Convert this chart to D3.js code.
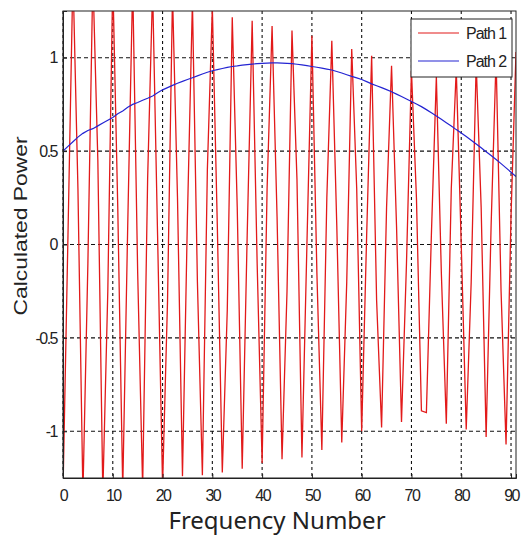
<!DOCTYPE html>
<html>
<head>
<meta charset="utf-8">
<script src="https://d3js.org/d3.v7.min.js"></script>
<style>
  body { margin: 0; background: #fff; }
  text { font-family: "Liberation Sans", Arial, sans-serif; fill: #222; }
</style>
</head>
<body>
<div id="chart_power"></div>
<script>
// data ---------------------------------------------------------------------
var freq = d3.range(0, 92); // frequency numbers 0..91

var path1 = [
  -1.32, 0.05, 1.45, 0.30, -1.34, -0.10, 1.44, 0.45, -1.33, -0.25,
   1.42, 0.20, -1.31, 0.10, 1.40, -0.15, -1.30, 0.35, 1.37, 0.05,
  -1.29, -0.30, 1.34, 0.25, -1.24, 0.15, 1.30, -0.20, -1.235, 0.40,
   1.27, 0.10, -1.22, -0.35, 1.216, 0.20, -1.20, 0.05, 1.198, -0.10,
  -1.17, 0.30, 1.17, 0.15, -1.15, -0.25, 1.145, 0.35, -1.14, 0.00,
   1.118, -0.15, -1.10, 0.25, 1.09, 0.10, -1.06, -0.20, 1.047, 0.30,
  -1.00, 0.05, 1.01, -0.30, -0.98, 0.20, 0.957, 0.10, -0.95, -0.10,
   0.93, 0.25, -0.89, -0.90, 0.05, 0.90, -0.15, -0.96, 0.30, 0.94,
   0.00, -0.99, -0.20, 0.97, 0.20, -1.03, 0.10, 1.00, -0.25, -1.07,
   0.15, 1.03
];

var path2 = [
  0.500, 0.525, 0.550, 0.575, 0.595, 0.610, 0.620, 0.635, 0.650, 0.665,
  0.680, 0.700, 0.715, 0.735, 0.750, 0.760, 0.772, 0.783, 0.795, 0.812,
  0.828, 0.840, 0.852, 0.863, 0.873, 0.883, 0.893, 0.903, 0.913, 0.922,
  0.930, 0.936, 0.942, 0.948, 0.953, 0.956, 0.960, 0.963, 0.966, 0.968,
  0.970, 0.971, 0.972, 0.972, 0.971, 0.970, 0.968, 0.965, 0.962, 0.958,
  0.953, 0.949, 0.944, 0.939, 0.934, 0.926, 0.918, 0.909, 0.900, 0.892,
  0.883, 0.872, 0.860, 0.850, 0.840, 0.829, 0.818, 0.805, 0.792, 0.779,
  0.766, 0.752, 0.738, 0.722, 0.705, 0.688, 0.670, 0.652, 0.634, 0.615,
  0.597, 0.578, 0.558, 0.538, 0.518, 0.497, 0.476, 0.455, 0.433, 0.410,
  0.387, 0.364
];

var xTicks = [0, 10, 20, 30, 40, 50, 60, 70, 80, 90];
var yTicks = [-1, -0.5, 0, 0.5, 1];
var seriesNames = ["Path 1", "Path 2"];
var seriesColors = ["#e21a1a", "#2424d2"];

// set the dimensions and margins of the graph
var margin = {top: 11, right: 6, bottom: 59, left: 63},
    width = 522 - margin.left - margin.right,
    height = 537 - margin.top - margin.bottom;

var svg = d3.select("#chart_power")
  .append("svg")
    .attr("width", 522)
    .attr("height", 537)
  .append("g")
    .attr("transform", "translate(" + margin.left + "," + margin.top + ")");

var x = d3.scaleLinear().domain([0, 91]).range([0, width]);
var y = d3.scaleLinear().domain([-1.25, 1.25]).range([height, 0]);

svg.append("clipPath")
    .attr("id", "plotclip")
  .append("rect")
    .attr("width", width)
    .attr("height", height);

// dotted grid
svg.append("g")
  .selectAll("line")
  .data(xTicks)
  .enter()
  .append("line")
    .attr("x1", function(d) { return x(d); })
    .attr("x2", function(d) { return x(d); })
    .attr("y1", 0)
    .attr("y2", height)
    .attr("stroke", "#111")
    .attr("stroke-width", 1.1)
    .attr("stroke-dasharray", "3,3");

svg.append("g")
  .selectAll("line")
  .data(yTicks)
  .enter()
  .append("line")
    .attr("x1", 0)
    .attr("x2", width)
    .attr("y1", function(d) { return y(d); })
    .attr("y2", function(d) { return y(d); })
    .attr("stroke", "#111")
    .attr("stroke-width", 1.1)
    .attr("stroke-dasharray", "4,3");

// lines
var line = d3.line()
  .x(function(d, i) { return x(freq[i]); })
  .y(function(d) { return y(d); });

var series = [path1, path2];
svg.append("g")
    .attr("clip-path", "url(#plotclip)")
  .selectAll("path")
  .data(series)
  .enter()
  .append("path")
    .attr("d", line)
    .attr("fill", "none")
    .attr("stroke", function(d, i) { return seriesColors[i]; })
    .attr("stroke-width", function(d, i) { return i == 0 ? 1.3 : 1.2; });

// axes with inward ticks
var xAxis = svg.append("g")
  .attr("transform", "translate(0," + height + ")")
  .call(d3.axisBottom(x).tickValues(xTicks).tickSize(-4).tickPadding(12));
var yAxis = svg.append("g")
  .call(d3.axisLeft(y).tickValues(yTicks).tickSize(-4).tickPadding(6)
    .tickFormat(function(d) { return d; }));

[xAxis, yAxis].forEach(function(a) {
  a.select(".domain").attr("stroke", "#222");
  a.selectAll(".tick line").attr("stroke", "#222");
  a.selectAll("text")
    .style("font-family", "'Liberation Sans', Arial, sans-serif")
    .style("font-size", "16px")
    .style("letter-spacing", "-1.5px")
    .attr("fill", "#222");
});

// box around the plot
svg.append("rect")
    .attr("width", width)
    .attr("height", height)
    .attr("fill", "none")
    .attr("stroke", "#222")
    .attr("stroke-width", 1);

// axis labels
svg.append("text")
    .attr("x", 214)
    .attr("y", height + 51)
    .attr("text-anchor", "middle")
    .style("font-family", "'Noto Sans', sans-serif")
    .style("font-size", "24px")
    .text("Frequency Number");

// the y label looks stretched along its length in the picture
svg.append("text")
    .attr("transform", "translate(" + (-36) + "," + 215 + ")rotate(-90)scale(1.27,1)")
    .attr("text-anchor", "middle")
    .style("font-size", "18px")
    .text("Calculated Power");

// legend
var legend = svg.append("g")
  .attr("transform", "translate(" + (width - 105) + ",8)");

legend.append("rect")
    .attr("width", 101)
    .attr("height", 58)
    .attr("fill", "#fff")
    .attr("stroke", "#222");

legend.selectAll("line")
  .data(seriesNames)
  .enter()
  .append("line")
    .attr("x1", 7)
    .attr("x2", 48)
    .attr("y1", function(d, i) { return 14 + i * 28; })
    .attr("y2", function(d, i) { return 14 + i * 28; })
    .attr("stroke", function(d, i) { return seriesColors[i]; })
    .attr("stroke-width", 1.2);

legend.selectAll("text")
  .data(seriesNames)
  .enter()
  .append("text")
    .attr("x", 55)
    .attr("y", function(d, i) { return 14 + i * 28; })
    .attr("dy", "0.35em")
    .style("font-size", "16px")
    .style("letter-spacing", "-1px")
    .text(function(d) { return d; });
</script>
</body>
</html>
